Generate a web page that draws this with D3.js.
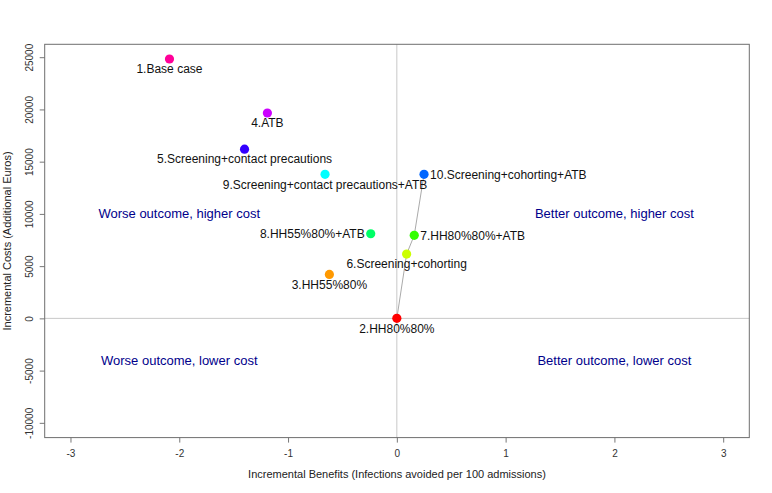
<!DOCTYPE html>
<html><head><meta charset="utf-8">
<script src="https://d3js.org/d3.v7.min.js"></script>
<style>body{margin:0;background:#fff}svg{display:block}text{font-family:"Liberation Sans",Arial,sans-serif}</style>
</head><body>
<svg id="c" width="772" height="493"></svg>
<script>
const labels = ["1.Base case","2.HH80%80%","3.HH55%80%","4.ATB","5.Screening+contact precautions","6.Screening+cohorting","7.HH80%80%+ATB","8.HH55%80%+ATB","9.Screening+contact precautions+ATB","10.Screening+cohorting+ATB"];
const benefits = [-2.09, 0, -0.62, -1.19, -1.40, 0.09, 0.16, -0.24, -0.66, 0.25];
const costs = [24830, 0, 4210, 19660, 16200, 6150, 7950, 8100, 13790, 13790];
const colors = ["#FF0099","#FF0000","#FF9900","#CC00FF","#3300FF","#CCFF00","#33FF00","#00FF66","#00FFFF","#0066FF"];
const labelPos = ["below","below","below","below","below","below","right","left","below","right"];
const frontier = [2, 6, 7, 10];
const xTicks = [-3,-2,-1,0,1,2,3];
const yTicks = [-10000,-5000,0,5000,10000,15000,20000,25000];
const quadrants = [
  {text:"Worse outcome, higher cost", x:-2, y:10000},
  {text:"Better outcome, higher cost", x:2, y:10000},
  {text:"Worse outcome, lower cost", x:-2, y:-4000},
  {text:"Better outcome, lower cost", x:2, y:-4000}
];

const svg = d3.select("#c");
const L=44.7, R=749.3, T=44.3, B=437.6;
const x = d3.scaleLinear().domain([-3.237, 3.24]).range([L, R]);
const y = d3.scaleLinear().domain([-11414, 26235]).range([B, T]);

// reference lines
svg.append("line").attr("x1", x(0)).attr("x2", x(0)).attr("y1", T).attr("y2", B).attr("stroke", "#c8c8c8").attr("stroke-width", 1);
svg.append("line").attr("x1", L).attr("x2", R).attr("y1", y(0)).attr("y2", y(0)).attr("stroke", "#c8c8c8").attr("stroke-width", 1);

// axes
const fmt = d => String(d);
const xAxis = d3.axisBottom(x).tickValues(xTicks).tickSize(5).tickPadding(7).tickFormat(fmt);
const gx = svg.append("g").attr("transform", `translate(0,${B})`).call(xAxis);
gx.select(".domain").remove();
gx.selectAll("line").attr("stroke", "#777");
gx.selectAll("text").attr("font-size", "10px").attr("fill", "#333").attr("font-family", "Liberation Sans, Arial, sans-serif");

const yAxis = d3.axisLeft(y).tickValues(yTicks).tickSize(5).tickFormat(fmt);
const gy = svg.append("g").attr("transform", `translate(${L},0)`).call(yAxis);
gy.select(".domain").remove();
gy.selectAll("line").attr("stroke", "#777");
gy.selectAll("text").attr("font-size", "10px").attr("fill", "#333").attr("font-family", "Liberation Sans, Arial, sans-serif")
  .attr("x", null).attr("dy", null).attr("text-anchor", "middle")
  .attr("transform", "translate(-12,0) rotate(-90)");

// box
svg.append("rect").attr("x", L).attr("y", T).attr("width", R-L).attr("height", B-T).attr("fill", "none").attr("stroke", "#6e6e6e").attr("stroke-width", 1);

// axis titles
svg.append("text").attr("x", (L+R)/2).attr("y", 478).attr("text-anchor", "middle").attr("font-size", "11px").attr("fill", "#222")
  .text("Incremental Benefits (Infections avoided per 100 admissions)");
svg.append("text").attr("transform", `translate(11,${(T+B)/2}) rotate(-90)`).attr("text-anchor", "middle").attr("font-size", "11px").attr("fill", "#222")
  .text("Incremental Costs (Additional Euros)");

// quadrant labels
svg.selectAll(".q").data(quadrants).enter().append("text")
  .attr("x", d => x(d.x)).attr("y", d => y(d.y)).attr("dy", "0.35em").attr("text-anchor", "middle")
  .attr("font-size", "13px").attr("fill", "#00008B").text(d => d.text);

// frontier line
const line = d3.line().x(i => x(benefits[i-1])).y(i => y(costs[i-1]));
svg.append("path").attr("d", line(frontier)).attr("fill", "none").attr("stroke", "#aaa").attr("stroke-width", 1);

// points
const idx = d3.range(labels.length);
svg.selectAll(".pt").data(idx).enter().append("circle")
  .attr("cx", i => x(benefits[i])).attr("cy", i => y(costs[i])).attr("r", 4.6).attr("fill", i => colors[i]);

// labels
svg.selectAll(".lb").data(idx).enter().append("text")
  .attr("x", i => { const p = labelPos[i]; return x(benefits[i]) + (p==="right"?6:p==="left"?-6:0); })
  .attr("y", i => y(costs[i]) + (labelPos[i]==="below"?10:0))
  .attr("dy", "0.35em")
  .attr("text-anchor", i => labelPos[i]==="right"?"start":labelPos[i]==="left"?"end":"middle")
  .attr("font-size", "12px").attr("fill", "#111").text(i => labels[i]);
</script>
</body></html>
